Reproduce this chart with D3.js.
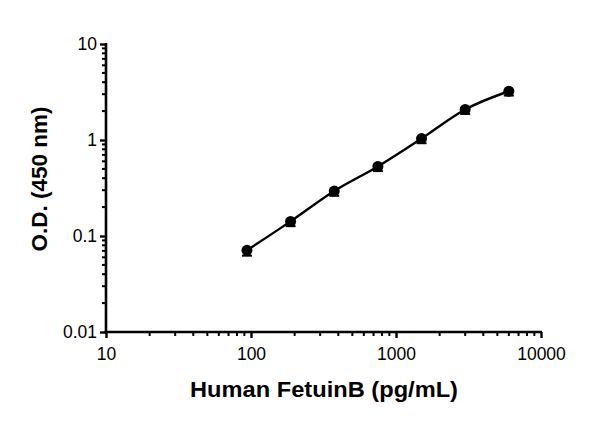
<!DOCTYPE html>
<html><head><meta charset="utf-8">
<script src="https://cdn.jsdelivr.net/npm/d3@7"></script>
<style>body{margin:0;background:#fff}svg{display:block}</style>
</head><body>
<svg id="c" width="600" height="421"></svg>
<script>
const conc = [93.75, 187.5, 375, 750, 1500, 3000, 6000];
const od   = [0.071, 0.142, 0.294, 0.530, 1.035, 2.08, 3.22];
const sd   = [0.004, 0.006, 0.012, 0.02, 0.04, 0.07, 0.10];
const xTicks = [10, 100, 1000, 10000];
const yTicks = [0.01, 0.1, 1, 10];
const xLabel = "Human FetuinB (pg/mL)";
const yLabel = "O.D. (450 nm)";

const svg = d3.select("#c");
const x = d3.scaleLog().domain([10, 10000]).range([106, 541]);
const y = d3.scaleLog().domain([0.01, 10]).range([332, 44]);

function minors(lo, hi){
  const out=[];
  for(let d=lo; d<hi; d*=10) for(let k=2;k<10;k++) out.push(d*k);
  return out;
}
const font = "'Liberation Sans', Arial, sans-serif";

// minor ticks
const g = svg.append("g").attr("stroke","#000");
g.selectAll(".xm").data(minors(10,10000)).join("line")
  .attr("x1",d=>x(d)).attr("x2",d=>x(d)).attr("y1",332).attr("y2",336).attr("stroke-width",2);
g.selectAll(".ym").data(minors(0.01,10)).join("line")
  .attr("y1",d=>y(d)).attr("y2",d=>y(d)).attr("x1",106).attr("x2",102).attr("stroke-width",2);

// axes
const xAxis = svg.append("g").attr("transform","translate(0,332)")
  .call(d3.axisBottom(x).tickValues(xTicks).tickFormat(d3.format("d")).tickSizeOuter(0).tickSize(6).tickPadding(10));
const yAxis = svg.append("g").attr("transform","translate(106,0)")
  .call(d3.axisLeft(y).tickValues(yTicks).tickFormat(d=>String(d)).tickSizeOuter(0).tickSize(6).tickPadding(3));
[xAxis,yAxis].forEach(a=>{
  a.select(".domain").attr("stroke","#000").attr("stroke-width",2.6);
  a.selectAll(".tick line").attr("stroke","#000").attr("stroke-width",2.4);
  a.selectAll(".tick text").attr("fill","#000").style("font-family",font).style("font-size","17.5px");
});
xAxis.select(".domain").attr("d","M104.7,0H542");
yAxis.select(".domain").attr("d","M0,43V333.3");

// line
svg.append("path").datum(conc.map((c,i)=>[c,od[i]]))
  .attr("fill","none").attr("stroke","#000").attr("stroke-width",2.4)
  .attr("d", d3.line().x(d=>x(d[0])).y(d=>y(d[1])).curve(d3.curveMonotoneX));

// error bars
const eb = svg.append("g").attr("stroke","#000").attr("stroke-width",2);
conc.forEach((c,i)=>{
  const yl = y(od[i]-sd[i]) + 3, xc = x(c);
  eb.append("line").attr("x1",xc).attr("x2",xc).attr("y1",y(od[i])).attr("y2",yl);
  eb.append("line").attr("x1",xc-5).attr("x2",xc+5).attr("y1",yl).attr("y2",yl);
});
// markers
svg.append("g").selectAll("circle").data(conc).join("circle")
  .attr("cx",(d)=>x(d)).attr("cy",(d,i)=>y(od[i])).attr("r",5.5).attr("fill","#000");

// titles
svg.append("text").attr("x",324).attr("y",396.5).attr("text-anchor","middle")
  .attr("textLength",268).attr("lengthAdjust","spacingAndGlyphs")
  .style("font-family",font).style("font-weight","bold").style("font-size","21.5px").text(xLabel);
svg.append("text").attr("transform","translate(47,179) rotate(-90)").attr("text-anchor","middle")
  .style("font-family",font).style("font-weight","bold").style("font-size","22.5px").text(yLabel);
</script>
</body></html>
